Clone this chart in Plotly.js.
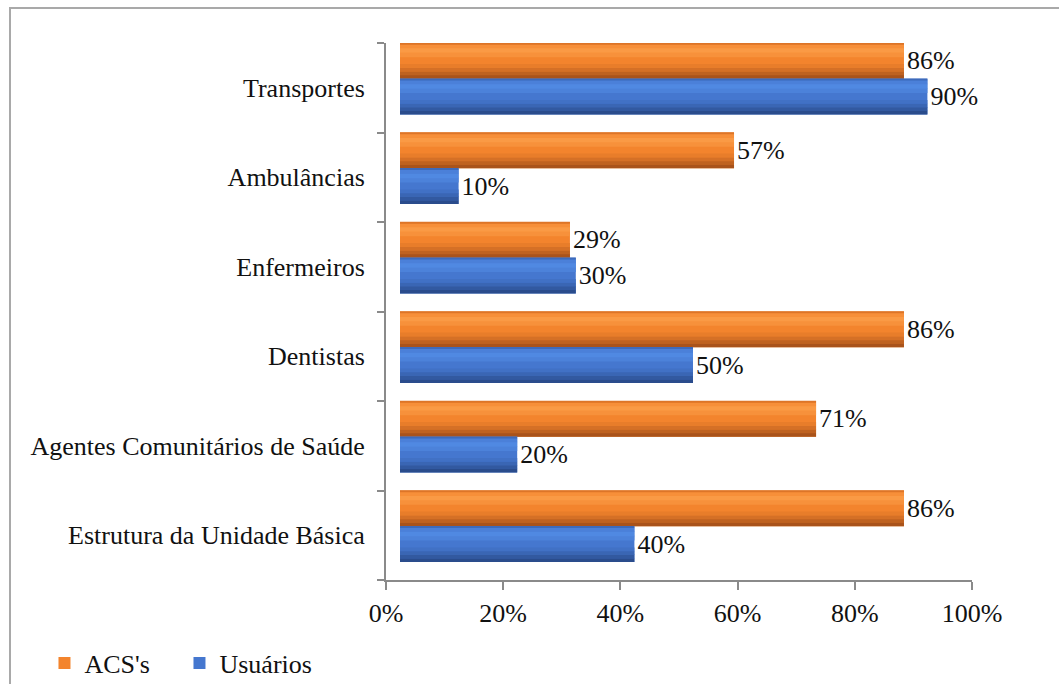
<!DOCTYPE html>
<html><head><meta charset="utf-8">
<script src="https://cdn.plot.ly/plotly-3.0.1.min.js"></script>
<style>
html,body{margin:0;padding:0;background:#fff;overflow:hidden}
#wrap{position:relative;width:1059px;height:684px}
#chart{width:1059px;height:684px}
#frame{position:absolute;left:9px;top:7px;width:1100px;height:720px;border-left:2px solid #a9a9a9;border-top:2px solid #a9a9a9;pointer-events:none}
</style></head><body>
<div id="wrap"><div id="chart"></div><div id="frame"></div></div>
<script>
// Data (categories listed bottom to top)
const categories = ['Estrutura da Unidade Básica','Agentes Comunitários de Saúde','Dentistas','Enfermeiros','Ambulâncias','Transportes'];
const acsValues = [86, 71, 86, 29, 57, 86];
const usuariosValues = [40, 20, 50, 30, 10, 90];
const seriesNames = ["ACS's", 'Usuários'];
const xTickValues = [0, 20, 40, 60, 80, 100];
const xTickLabels = ['0%', '20%', '40%', '60%', '80%', '100%'];

const FONT = "'Liberation Serif','Times New Roman',serif";
const FS = 26;
const depthPx = 14, plotW = 586;
const dshift = depthPx / plotW;

function mix(a, b, t) {
  const p = s => [1,3,5].map(i => parseInt(s.substr(i,2),16));
  const A = p(a), B = p(b);
  return 'rgb(' + A.map((v,i)=>Math.round(v*(1-t)+B[i]*t)).join(',') + ')';
}

function cylinder(values, name, offset, main, dark, light) {
  const labels = values.map(v => v + '%');
  const out = [{
    type: 'bar', orientation: 'h', x: values, y: categories, name: name,
    xaxis: 'x2', yaxis: 'y', width: 0.4, offset: offset,
    marker: {color: main, line: {width: 0}},
    text: labels, textposition: 'outside', cliponaxis: false, constraintext: 'none',
    textfont: {family: FONT, size: FS, color: '#111'}, hoverinfo: 'x+y'
  }];
  // shading bands (bottom dark -> main, highlight near top)
  const bands = [
    [0.00, 0.04, mix(dark, main, 0.0)],
    [0.04, 0.04, mix(dark, main, 0.3)],
    [0.08, 0.04, mix(dark, main, 0.6)],
    [0.12, 0.04, mix(dark, main, 0.85)],
    [0.24, 0.05, mix(main, light, 0.6)],
    [0.29, 0.05, light],
    [0.34, 0.04, mix(main, light, 0.5)],
    [0.38, 0.02, mix(main, dark, 0.3)]
  ];
  bands.forEach(([o, w, c]) => out.push({
    type: 'bar', orientation: 'h', x: values, y: categories, xaxis: 'x2', yaxis: 'y',
    width: w + 0.004, offset: offset + o, marker: {color: c, line: {width: 0}},
    showlegend: false, hoverinfo: 'skip', textposition: 'none'
  }));
  return out;
}

const traces = [
  {type: 'scatter', x: [], y: [], xaxis: 'x', yaxis: 'y', showlegend: false, hoverinfo: 'skip'},
  ...cylinder(acsValues, seriesNames[0], 0.1, '#f3842d', '#a9531b', '#fa9a45'),
  ...cylinder(usuariosValues, seriesNames[1], -0.3, '#4577cf', '#2a4c8c', '#5089e2')
];

const layout = {
  width: 1059, height: 684,
  margin: {l: 386, r: 87, t: 43, b: 104},
  paper_bgcolor: '#fff', plot_bgcolor: '#fff',
  barmode: 'overlay',
  font: {family: FONT, size: FS, color: '#111'},
  showlegend: true,
  legend: {
    orientation: 'h', xref: 'container', yref: 'container',
    x: 0.042, y: 1 - 663/684, xanchor: 'left', yanchor: 'middle',
    font: {family: FONT, size: FS, color: '#111'},
    entrywidth: 90, entrywidthmode: 'pixels', itemwidth: 30,
    traceorder: 'normal'
  },
  xaxis: {
    domain: [0, 1], range: [0, 100], anchor: 'y',
    tickvals: xTickValues, ticktext: xTickLabels,
    ticks: 'outside', ticklen: 8, tickwidth: 2, tickcolor: '#8a8a8a',
    showline: true, linecolor: '#8a8a8a', linewidth: 2,
    showgrid: false, zeroline: false, ticklabelstandoff: 1,
    tickfont: {family: FONT, size: FS, color: '#111'}, fixedrange: true
  },
  xaxis2: {
    domain: [dshift, 1], range: [0, 100 * (1 - dshift)], anchor: 'y',
    visible: false, showgrid: false, zeroline: false, fixedrange: true
  },
  yaxis: {
    type: 'category', range: [-0.5, 5.5], anchor: 'x',
    showline: true, linecolor: '#8a8a8a', linewidth: 2,
    ticks: 'outside', tickson: 'boundaries', ticklen: 7, tickwidth: 2, tickcolor: '#8a8a8a',
    showgrid: false, zeroline: false, ticklabelstandoff: 14,
    tickfont: {family: FONT, size: FS, color: '#111'}, fixedrange: true
  }
};

Plotly.newPlot('chart', traces, layout, {displayModeBar: false, staticPlot: true});
</script>
</body></html>
